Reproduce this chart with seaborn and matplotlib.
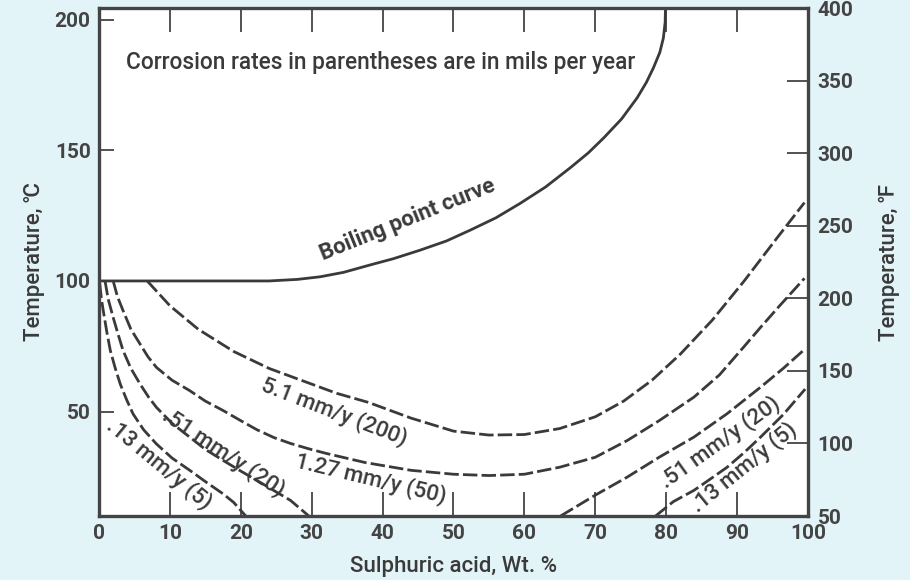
import matplotlib
matplotlib.use("Agg")
import matplotlib.pyplot as plt
import pandas as pd
import seaborn as sns

# values (x = wt. % H2SO4, y = temperature in deg C)
boil_x = [0, 10, 20, 24, 28, 31.2, 34.5, 38.2, 41.5, 45.3, 49, 52.4, 56, 59.4, 63,
          66.5, 69, 71.2, 73.7, 75.9, 77.2, 78.2, 79.1, 79.6, 79.85, 79.9]
boil_y = [100, 100, 100, 100, 100.6, 101.6, 103.3, 106.1, 108.5, 111.8, 115.3, 119.5,
          124.2, 129.7, 136, 143.4, 149, 154.8, 162, 170.1, 176, 181.6, 187.5, 193,
          199, 204.5]

r51_x = [6.8, 10, 14, 19, 24, 29, 33.5, 38, 44, 50, 55, 60, 65, 70, 74, 78, 82,
         86.5, 91, 95.5, 99.5]
r51_y = [100, 90.5, 81.5, 73, 66.5, 61.5, 57, 53.5, 47.5, 42.5, 41, 41.2, 43.5, 48,
         54, 62, 72, 85, 100, 116, 130]

r127_x = [2, 2.6, 3.4, 4.5, 5.8, 6.9, 8.1, 10.3, 12.8, 15, 17.5, 20, 22.3, 24.7,
          27, 29.5, 32, 37.5, 44, 50, 55, 60, 65, 70, 74.5, 79, 83.9, 87.5, 90.9,
          93.3, 96, 99.5]
r127_y = [100, 94, 88.6, 81.5, 75.8, 71, 66.9, 62, 58, 54, 50.4, 46.5, 43, 40,
          37.8, 35.8, 34, 30.5, 27.5, 26, 25.5, 26, 28.7, 32.5, 38.9, 46.5, 55.5,
          64, 74.6, 82.2, 90.5, 101]

r051_left_x = [0.85, 1.3, 2, 2.7, 3.4, 4.5, 5.8, 7, 8.1, 10.3, 12.8, 15, 17.5, 20,
               22.3, 24.7, 27, 29.6]
r051_left_y = [100, 93, 86, 79.5, 73.3, 66.5, 60.5, 55.5, 51.6, 45.5, 40.2, 35.5,
               31.3, 27.2, 23.6, 19.7, 16, 10]
r051_right_x = [65.1, 70, 74.5, 79, 83.9, 88.6, 93.3, 96.5, 99.6]
r051_right_y = [10, 18, 24.9, 32.5, 40.2, 49.2, 59.3, 66.5, 74]

r013_left_x = [0.1, 0.35, 0.6, 1.1, 1.6, 2.3, 3, 3.9, 4.8, 6.3, 8.1, 10.3, 12.8,
               15.2, 17.5, 19, 20.7]
r013_left_y = [99, 93, 88.6, 80.5, 73.3, 66.5, 60.5, 54.5, 49.1, 43, 37.6, 32.2,
               27.5, 22.8, 18.5, 15.2, 10]
r013_right_x = [78.5, 81, 83.9, 86.3, 88.6, 91, 93.3, 96.5, 99.6]
r013_right_y = [10, 15.5, 19.8, 24.3, 28.7, 34.3, 40.2, 48.8, 58.6]

x_ticks = [0, 10, 20, 30, 40, 50, 60, 70, 80, 90, 100]
c_ticks = [50, 100, 150, 200]
f_ticks = [50, 100, 150, 200, 250, 300, 350, 400]

curve_labels = ["Boiling point curve", "5.1 mm/y (200)", "1.27 mm/y (50)",
                ".51 mm/y (20)", ".13 mm/y (5)", ".51 mm/y (20)", ".13 mm/y (5)"]
label_x = [43.6, 33.2, 38.3, 17.6, 8.5, 87.6, 91.0]
label_y = [123.5, 50.0, 24.1, 34.4, 29.9, 38.3, 28.7]
label_rot = [22, -21, -13.5, -33.5, -39.5, 35.5, 39]

INK = "#3a3a3a"
AXC = "#444444"
BG = "#e3f4f8"


def to_frame(name, xs, ys):
    return pd.DataFrame({"curve": name, "acid": xs, "temp": ys})


sns.set_theme(style="ticks")
plt.rcParams["font.family"] = ["Roboto", "DejaVu Sans"]

dashed = pd.concat([
    to_frame("5.1", r51_x, r51_y),
    to_frame("1.27", r127_x, r127_y),
    to_frame("0.51 left", r051_left_x, r051_left_y),
    to_frame("0.51 right", r051_right_x, r051_right_y),
    to_frame("0.13 left", r013_left_x, r013_left_y),
    to_frame("0.13 right", r013_right_x, r013_right_y),
], ignore_index=True)
boiling = to_frame("boiling", boil_x, boil_y)

fig = plt.figure(figsize=(9.1, 5.8), dpi=100, facecolor=BG)
ax = fig.add_axes([0.1088, 0.1103, 0.7791, 0.8759])
ax.set_facecolor("white")

sns.lineplot(data=boiling, x="acid", y="temp", sort=False, estimator=None,
             color=INK, lw=2.0, ax=ax, legend=False)
for name, grp in dashed.groupby("curve", sort=False):
    sns.lineplot(data=grp, x="acid", y="temp", sort=False, estimator=None,
                 color=INK, lw=2.0, ax=ax, legend=False)
    ax.lines[-1].set_dashes([5.2, 1.5])

ax.set_xlim(0, 100)
ax.set_ylim(10, 204.5)
ax.set_xticks(x_ticks)
ax.set_yticks(c_ticks)
for side in ["left", "right", "top", "bottom"]:
    ax.spines[side].set_linewidth(2.4)
    ax.spines[side].set_color(AXC)
ax.tick_params(axis="x", direction="in", length=17, width=1.3, color=AXC,
               pad=6, labelsize=15, labelcolor=AXC, top=True, labeltop=False)
ax.tick_params(axis="y", direction="in", length=11, width=1.3, color=AXC,
               pad=6, labelsize=15, labelcolor=AXC)
for lab in ax.get_xticklabels() + ax.get_yticklabels():
    lab.set_fontweight("semibold")

ax.set_xlabel("Sulphuric acid, Wt. %", fontsize=16, color=INK, labelpad=9,
              fontweight="medium")
ax.set_ylabel("Temperature, ℃", fontsize=16, color=INK, labelpad=7,
              fontweight="medium")

# right axis in degrees F
ax2 = ax.secondary_yaxis("right", functions=(lambda c: c * 9 / 5 + 32,
                                             lambda f: (f - 32) * 5 / 9))
ax2.set_yticks(f_ticks)
ax2.tick_params(direction="in", length=15, width=1.3, color=AXC, pad=7,
                labelsize=15, labelcolor=AXC)
for lab in ax2.get_yticklabels():
    lab.set_fontweight("semibold")
ax2.set_ylabel("Temperature, ℉", fontsize=16, color=INK, labelpad=18,
               fontweight="medium")

ax.text(3.8, 183.5, "Corrosion rates in parentheses are in mils per year",
        fontsize=16.3, color=INK, ha="left", va="center", fontweight="medium")

for i, (txt, tx, ty, rot) in enumerate(zip(curve_labels, label_x, label_y, label_rot)):
    ax.text(tx, ty, txt, fontsize=16, color=INK, rotation=rot,
            rotation_mode="anchor", ha="center", va="center",
            fontweight="semibold" if i == 0 else "medium")

fig.savefig("out.png", dpi=100, facecolor=BG)
